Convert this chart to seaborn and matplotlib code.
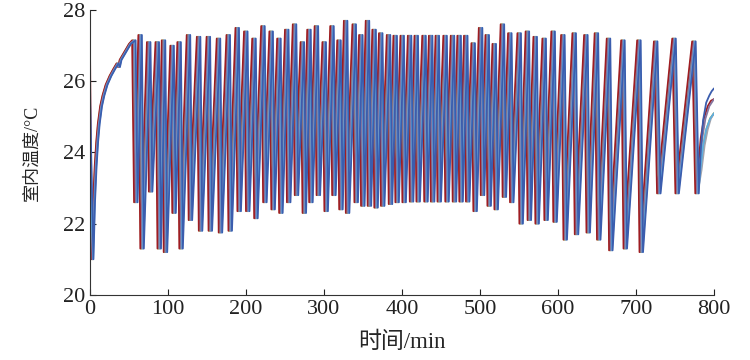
import numpy as np
import pandas as pd
import matplotlib
matplotlib.use("Agg")
import matplotlib.pyplot as plt
import seaborn as sns

# initial warm-up curve (min, degC)
rise_t = [2, 4, 6, 8, 10, 13, 16, 20, 25, 30, 34, 36, 38, 42, 46, 50]
rise_T = [21.0, 22.6, 23.6, 24.3, 24.8, 25.3, 25.6, 25.9, 26.15, 26.35,
          26.5, 26.4, 26.6, 26.75, 26.9, 27.05]

# on/off cycles: peak and trough of each cycle
peak_t = [54, 62, 73, 84, 92, 103, 112, 124, 137, 149.5,
          162.5, 175, 186.5, 197.5, 208, 219.5, 230, 240, 250, 260,
          270, 278.5, 288, 298, 308, 317, 325.5, 336.5, 345, 353.5,
          362, 370.5, 380.5, 389, 398, 407.5, 416, 426, 434.5, 443,
          453, 462.5, 471, 479.5, 489, 498.5, 507, 516, 526.5, 536,
          548, 558.5, 568.5, 580, 591.5, 604, 618.5, 633.5, 647, 662.5,
          681, 701.5, 723, 746.5, 772]
peak_T = [27.15, 27.3, 27.1, 27.1, 27.15, 27.0, 27.1, 27.3, 27.25, 27.25,
          27.2, 27.3, 27.5, 27.4, 27.2, 27.55, 27.4, 27.2, 27.45, 27.6,
          27.1, 27.45, 27.55, 27.1, 27.55, 27.15, 27.7, 27.6, 27.3, 27.7,
          27.45, 27.35, 27.3, 27.28, 27.28, 27.28, 27.28, 27.28, 27.28, 27.28,
          27.28, 27.28, 27.28, 27.28, 27.07, 27.5, 27.3, 27.05, 27.6, 27.35,
          27.35, 27.4, 27.25, 27.2, 27.4, 27.3, 27.35, 27.3, 27.35, 27.2,
          27.15, 27.15, 27.12, 27.2, 27.12]
trough_t = [56.5, 64.5, 75.5, 86.5, 94.5, 105.5, 114.5, 126.5, 139.5, 152,
            165, 177.5, 189, 200, 210.5, 222, 232.5, 242.5, 252.5, 262.5,
            272.5, 281, 290.5, 300.5, 310.5, 319.5, 328, 339, 347.5, 356,
            364.5, 373, 383, 391.5, 400.5, 410, 418.5, 428.5, 437, 445.5,
            455.5, 465, 473.5, 482, 491.5, 501, 509.5, 518.5, 529, 538.5,
            550.5, 561, 571, 582.5, 594, 607, 621.5, 636.5, 650, 665.5,
            684, 704.5, 727, 750.5, 776]
trough_T = [22.6, 21.3, 22.9, 21.3, 21.2, 22.3, 21.3, 22.1, 21.8, 21.8,
            21.75, 21.8, 22.35, 22.35, 22.15, 22.6, 22.4, 22.3, 22.6, 22.8,
            22.3, 22.6, 22.8, 22.35, 22.8, 22.4, 22.3, 22.6, 22.5, 22.5,
            22.45, 22.5, 22.55, 22.6, 22.6, 22.62, 22.62, 22.62, 22.62, 22.62,
            22.62, 22.62, 22.62, 22.62, 22.35, 22.8, 22.5, 22.4, 22.75, 22.6,
            22.0, 22.1, 22.0, 22.1, 22.05, 21.55, 21.7, 21.75, 21.55, 21.25,
            21.3, 21.2, 22.85, 22.85, 22.85]

# rooms (draw order bottom -> top)
rooms = ["yellow", "green", "grey", "red", "purple", "lightblue", "blue"]
colors = ["#d8c13c", "#7db55a", "#a3a3ad", "#9e1c22", "#85759f", "#5fade0", "#3b5dae"]
rise_lag = [0.4, 0.8, 1.6, 0.0, 1.2, 2.0, 2.4]      # lag during warm-up, min
cycle_lag = [0.8, 1.5, 3.0, 0.0, 2.2, 3.8, 4.5]     # lag during cycling, min
start_T = [22.8, 22.6, 24.5, 27.0, 26.0, 23.5, 25.5]
tail_t = [[782, 786, 790, 795, 800],
          [783, 787, 791, 795, 800],
          [784, 788, 792, 796, 800],
          [779, 783, 787, 792, 796, 800],
          [781, 785, 789, 794, 800],
          [782.5, 786, 790, 795, 800],
          [783, 786, 790, 794, 797, 800]]
tail_T = [[23.5, 24.2, 24.65, 24.95, 25.1],
          [23.5, 24.2, 24.65, 24.95, 25.1],
          [23.5, 24.2, 24.65, 24.95, 25.1],
          [23.4, 24.4, 24.95, 25.3, 25.45, 25.5],
          [23.4, 24.4, 24.95, 25.3, 25.5],
          [23.5, 24.2, 24.65, 24.95, 25.1],
          [24.1, 24.9, 25.4, 25.6, 25.72, 25.8]]

assert len(peak_t) == len(peak_T) == len(trough_t) == len(trough_T)

cyc_t, cyc_T = [], []
for a, b, c, d in zip(peak_t, peak_T, trough_t, trough_T):
    cyc_t += [a, c]
    cyc_T += [b, d]

rows = []
for i, r in enumerate(rooms):
    ts = ([0] + [t + rise_lag[i] for t in rise_t]
          + [t + cycle_lag[i] for t in cyc_t] + tail_t[i])
    Ts = [start_T[i]] + rise_T + cyc_T + tail_T[i]
    for t, T in zip(ts, Ts):
        rows.append((r, t, T))
df = pd.DataFrame(rows, columns=["room", "t", "T"])

sns.set_style("ticks")
plt.rcParams["font.family"] = ["Liberation Serif", "Noto Sans CJK SC"]
plt.rcParams["axes.unicode_minus"] = False

fig = plt.figure(figsize=(7.5, 3.6), dpi=100)
ax = fig.add_axes([0.12, 0.181, 0.832, 0.791])

sns.lineplot(data=df, x="t", y="T", hue="room", hue_order=rooms,
             palette=dict(zip(rooms, colors)), sort=False, estimator=None,
             legend=False, linewidth=1.3, ax=ax)

ax.set_xlim(0, 800)
ax.set_ylim(20, 28)
ax.set_xticks(range(0, 801, 100))
ax.set_yticks(range(20, 29, 2))
ax.tick_params(direction="in", length=4, width=0.8, labelsize=16, colors="#222222")
for s in ["top", "right"]:
    ax.spines[s].set_visible(False)
for s in ["left", "bottom"]:
    ax.spines[s].set_linewidth(0.8)
    ax.spines[s].set_color("#333333")

ax.set_xlabel("时间/min", fontsize=16.5, labelpad=9)
ax.set_ylabel("室内温度/°C", fontsize=13, labelpad=16)

fig.savefig("out.png", dpi=100)
